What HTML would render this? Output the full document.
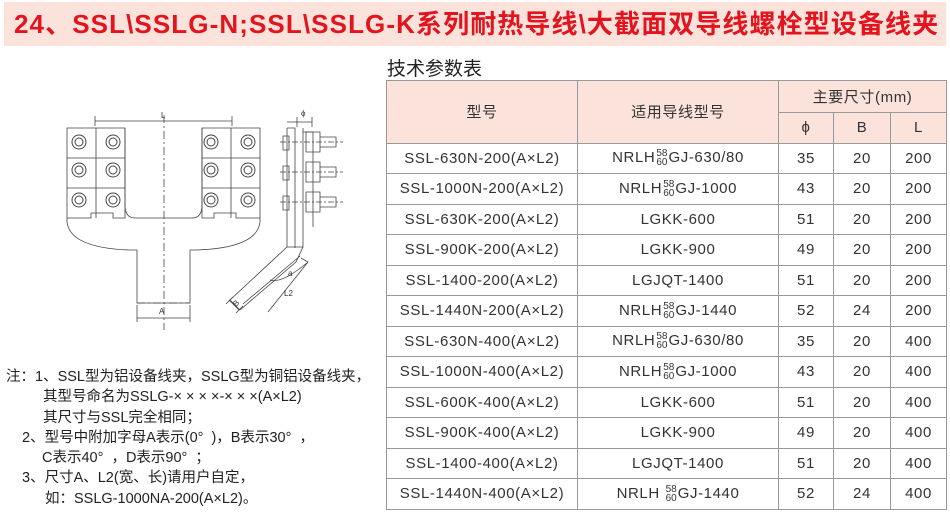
<!DOCTYPE html>
<html><head><meta charset="utf-8"><style>
body{margin:0;width:950px;height:522px;background:#fff;position:relative;overflow:hidden;font-family:"Liberation Sans","Noto Sans CJK SC",sans-serif}
.title{position:absolute;left:4px;top:2px;width:942px;height:44px;background:#fbe3dc;color:#e3141e;font-weight:bold;font-size:26px;line-height:44px;padding-left:10px;box-sizing:border-box;white-space:nowrap;letter-spacing:1.1px}
.sub{position:absolute;left:387px;top:54px;font-size:19px;color:#222}
table{position:absolute;left:386px;top:80px;border-collapse:collapse;font-size:15px;color:#333;letter-spacing:0.6px}
td{border:1.5px solid #999;text-align:center;padding:0;height:29.5px;white-space:nowrap}
.h{background:#fbe3dc}
.f{font-size:10px;display:inline-block;vertical-align:middle;line-height:9px;margin:0 1px;letter-spacing:0}
.notes{position:absolute;left:6px;top:367px;font-size:14.5px;line-height:20.3px;color:#222;white-space:pre}
.notes div{white-space:pre}
</style></head><body>
<div class="title">24、SSL\SSLG-N;SSL\SSLG-K系列耐热导线\大截面双导线螺栓型设备线夹</div>
<div class="sub">技术参数表</div>
<table>
<colgroup><col style="width:191px"><col style="width:201px"><col style="width:55px"><col style="width:57px"><col style="width:56px"></colgroup>
<tr class="h"><td rowspan="2" class="h">型号</td><td rowspan="2" class="h">适用导线型号</td><td colspan="3" class="h" style="height:31px">主要尺寸(mm)</td></tr>
<tr class="h"><td class="h">ϕ</td><td class="h">B</td><td class="h">L</td></tr>
<tr><td>SSL-630N-200(A×L2)</td><td>NRLH<span class="f">58<br>60</span>GJ-630/80</td><td>35</td><td>20</td><td>200</td></tr>
<tr><td>SSL-1000N-200(A×L2)</td><td>NRLH<span class="f">58<br>60</span>GJ-1000</td><td>43</td><td>20</td><td>200</td></tr>
<tr><td>SSL-630K-200(A×L2)</td><td>LGKK-600</td><td>51</td><td>20</td><td>200</td></tr>
<tr><td>SSL-900K-200(A×L2)</td><td>LGKK-900</td><td>49</td><td>20</td><td>200</td></tr>
<tr><td>SSL-1400-200(A×L2)</td><td>LGJQT-1400</td><td>51</td><td>20</td><td>200</td></tr>
<tr><td>SSL-1440N-200(A×L2)</td><td>NRLH<span class="f">58<br>60</span>GJ-1440</td><td>52</td><td>24</td><td>200</td></tr>
<tr><td>SSL-630N-400(A×L2)</td><td>NRLH<span class="f">58<br>60</span>GJ-630/80</td><td>35</td><td>20</td><td>400</td></tr>
<tr><td>SSL-1000N-400(A×L2)</td><td>NRLH<span class="f">58<br>60</span>GJ-1000</td><td>43</td><td>20</td><td>400</td></tr>
<tr><td>SSL-600K-400(A×L2)</td><td>LGKK-600</td><td>51</td><td>20</td><td>400</td></tr>
<tr><td>SSL-900K-400(A×L2)</td><td>LGKK-900</td><td>49</td><td>20</td><td>400</td></tr>
<tr><td>SSL-1400-400(A×L2)</td><td>LGJQT-1400</td><td>51</td><td>20</td><td>400</td></tr>
<tr><td>SSL-1440N-400(A×L2)</td><td>NRLH <span class="f">58<br>60</span>GJ-1440</td><td>52</td><td>24</td><td>400</td></tr>
</table>
<svg style="position:absolute;left:0;top:0" width="380" height="340" fill="none" stroke="#444" stroke-width="0.8">
<path d="M95 121H232M95 116v10M232 116v10"/><text x="161" y="118" font-size="8" fill="#333" stroke="none">L</text>
<path d="M67 128H125V218H113V213H91V218H67Z"/>
<path d="M202 128H260V218H236V213H214V218H202Z"/>
<path d="M67 158H125M67 188H125M202 158H260M202 188H260M96 128V218M231 128V218"/>
<path d="M67 218V222Q70 248 130 250H137V303H190V250H197Q257 248 260 222V218M125 128V205Q125 218 135 218H192Q202 218 202 205V128"/>
<path d="M137 303H190M164 115V330" stroke-dasharray="8 3 2 3"/>
<path d="M137 318H190M137 305V322M190 305V322"/><text x="159" y="314" font-size="8" fill="#333" stroke="none">A</text>
<g stroke-width="1">
<circle cx="79" cy="142" r="7"/><circle cx="79" cy="142" r="4"/><circle cx="113" cy="142" r="7"/><circle cx="113" cy="142" r="4"/>
<circle cx="79" cy="170" r="7"/><circle cx="79" cy="170" r="4"/><circle cx="113" cy="170" r="7"/><circle cx="113" cy="170" r="4"/>
<circle cx="79" cy="200" r="7"/><circle cx="79" cy="200" r="4"/><circle cx="113" cy="200" r="7"/><circle cx="113" cy="200" r="4"/>
<circle cx="211" cy="142" r="7"/><circle cx="211" cy="142" r="4"/><circle cx="248" cy="142" r="7"/><circle cx="248" cy="142" r="4"/>
<circle cx="211" cy="170" r="7"/><circle cx="211" cy="170" r="4"/><circle cx="248" cy="170" r="7"/><circle cx="248" cy="170" r="4"/>
<circle cx="211" cy="200" r="7"/><circle cx="211" cy="200" r="4"/><circle cx="248" cy="200" r="7"/><circle cx="248" cy="200" r="4"/>
</g>
<path d="M287 128V247H303V128M297 122H312M287 122h10M297 117v10M312 117v10"/><text x="301" y="116" font-size="8" fill="#333" stroke="none">ϕ</text>
<path d="M287 128h8v120M303 132h10v95M283 136h6v14h-6zM283 166h6v14h-6zM283 196h6v14h-6z"/>
<path d="M306 132h14v20h-14zM306 162h14v20h-14zM306 192h14v20h-14zM320 137h16v10h-16zM320 167h16v10h-16zM320 197h16v10h-16z"/>
<path d="M280 142H343M280 172H343M280 202H343" stroke-dasharray="6 2 2 2"/>
<path d="M287 247L230 300L240 310L296 262L303 247M243 304L300 256"/>
<path d="M233 297L226 304M243 306L236 313M229 300l10 10"/><text x="236" y="307" font-size="8" fill="#333" stroke="none" transform="rotate(-45 236 307)">B</text>
<path d="M301 258L308 262L268 312M270 280Q282 284 308 262"/><text x="288" y="276" font-size="8" fill="#333" stroke="none">a</text><text x="284" y="296" font-size="8" fill="#333" stroke="none">L2</text>
</svg>
<div class="notes"><div>注：1、SSL型为铝设备线夹，SSLG型为铜铝设备线夹，</div><div style="padding-left:37px">其型号命名为SSLG-× × × ×-× × ×(A×L2)</div><div style="padding-left:37px">其尺寸与SSL完全相同；</div><div style="padding-left:16px">2、型号中附加字母A表示(0°  )，B表示30°  ，</div><div style="padding-left:36px">C表示40°  ，D表示90°  ；</div><div style="padding-left:16px">3、尺寸A、L2(宽、长)请用户自定，</div><div style="padding-left:39px">如：SSLG-1000NA-200(A×L2)。</div></div>
</body></html>
